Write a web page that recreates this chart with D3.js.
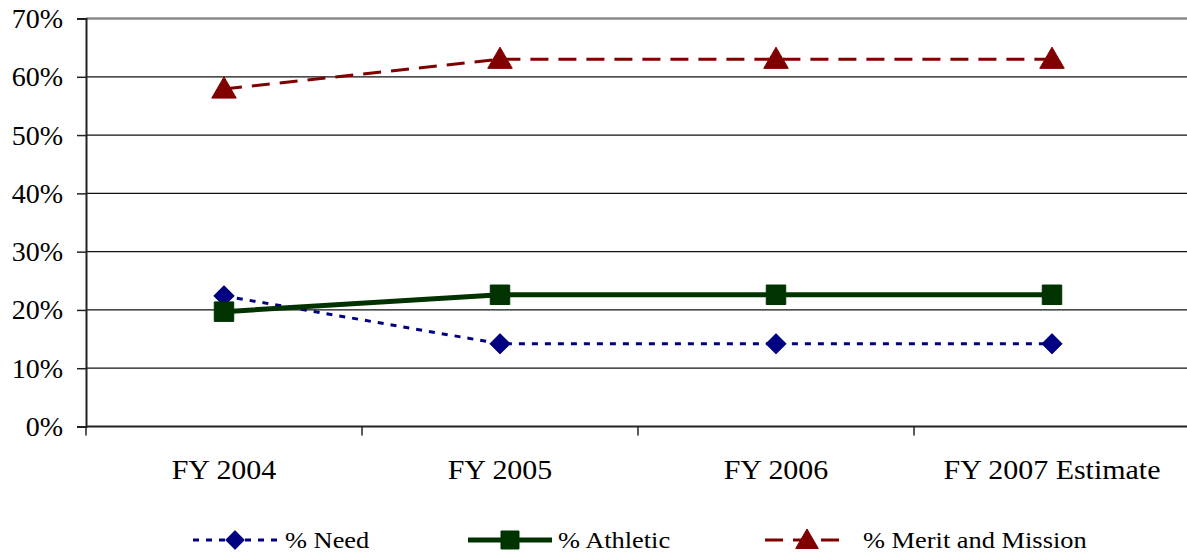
<!DOCTYPE html>
<html>
<head>
<meta charset="utf-8">
<script src="https://cdn.jsdelivr.net/npm/d3@7"></script>
<style>
	body { margin: 0; background: #fff; }
	svg { display: block; font-family: "Liberation Serif", "Times New Roman", serif; }
</style>
</head>
<body>
<svg id="chart" width="1187" height="554"></svg>
<script>
const categories = ["FY 2004", "FY 2005", "FY 2006", "FY 2007 Estimate"];
const need = [0.224, 0.142, 0.142, 0.142];
const athletic = [0.197, 0.226, 0.226, 0.226];
const merit = [0.579, 0.630, 0.630, 0.630];
const yTicks = [0, 0.1, 0.2, 0.3, 0.4, 0.5, 0.6, 0.7];
const seriesNames = ["% Need", "% Athletic", "% Merit and Mission"];

const svg = d3.select("#chart");
const plotL = 86, plotR = 1190, plotT = 18.5, plotB = 426.5;

const x = d3.scaleBand().domain(categories).range([plotL, plotR]).padding(0);
const y = d3.scaleLinear().domain([0, 0.7]).range([plotB, plotT]);

// widen text a bit, the source font runs wider than Liberation Serif
function stretch(sel, k) {
	sel.each(function() {
		const w = this.getComputedTextLength();
		d3.select(this).attr("textLength", w * k).attr("lengthAdjust", "spacingAndGlyphs");
	});
}

// gridlines
svg.append("g").selectAll("line").data(yTicks.filter(d => d > 0)).join("line")
	.attr("x1", plotL).attr("x2", 1187)
	.attr("y1", d => y(d)).attr("y2", d => y(d))
	.attr("stroke", d => d === 0.7 ? "#8a8a8a" : "#111")
	.attr("stroke-width", d => d === 0.7 ? 2.5 : 1.2);

// y axis
const yAxis = svg.append("g")
	.attr("transform", `translate(${plotL},0)`)
	.call(d3.axisLeft(y).tickValues(yTicks).tickFormat(d3.format(".0%")).tickSize(9).tickPadding(14));
yAxis.select(".domain").attr("stroke", "#222").attr("stroke-width", 2);
yAxis.selectAll(".tick line").attr("stroke", "#222").attr("stroke-width", 1.5);
yAxis.selectAll("text").attr("font-size", "28px").attr("fill", "#000")
	.attr("font-family", "Liberation Serif");

// x axis
const xAxis = svg.append("g")
	.attr("transform", `translate(0,${plotB})`)
	.call(d3.axisBottom(x).tickSize(0).tickPadding(33));
xAxis.select(".domain").remove();
svg.append("line").attr("x1", plotL).attr("x2", 1187).attr("y1", plotB).attr("y2", plotB)
	.attr("stroke", "#222").attr("stroke-width", 2.2);
svg.append("g").selectAll("line").data(categories).join("line")
	.attr("x1", d => x(d)).attr("x2", d => x(d))
	.attr("y1", plotB).attr("y2", plotB + 9)
	.attr("stroke", "#222").attr("stroke-width", 1.5);
xAxis.selectAll("text").attr("font-size", "28px").attr("fill", "#000")
	.attr("font-family", "Liberation Serif").call(stretch, 1.07);

const cx = d => x(d) + x.bandwidth() / 2;
const styles = [
	{ data: need, color: "#000080", width: 3, dash: "6,7", shape: d3.symbolSquare, rot: 45, size: 200 },
	{ data: athletic, color: "#003300", width: 5, dash: null, shape: d3.symbolSquare, rot: 0, size: 380 },
	{ data: merit, color: "#800000", width: 3, dash: "18,10", shape: d3.symbolTriangle, rot: 0, size: 260 }
];

const line = d3.line().x((d, i) => cx(categories[i])).y(d => y(d));

styles.forEach(s => {
	svg.append("path").datum(s.data)
		.attr("d", line).attr("fill", "none")
		.attr("stroke", s.color).attr("stroke-width", s.width)
		.attr("stroke-dasharray", s.dash);
});
styles.forEach(s => {
	const sym = d3.symbol().type(s.shape).size(s.size);
	svg.append("g").selectAll("path").data(s.data).join("path")
		.attr("d", sym)
		.attr("transform", (d, i) => `translate(${cx(categories[i])},${y(d) + (s.shape === d3.symbolTriangle ? 2 : 0)}) rotate(${s.rot})`)
		.attr("fill", s.color)
		.attr("stroke", s.color).attr("stroke-width", 1)
		.attr("stroke-linejoin", "round");
});

// legend
const legX = [193, 468, 765];
const legTextX = [92, 90, 98];
const legY = 540;
styles.forEach((s, i) => {
	const g = svg.append("g").attr("transform", `translate(${legX[i]},${legY})`);
	g.append("line").attr("x1", 0).attr("x2", 84).attr("y1", 0).attr("y2", 0)
		.attr("stroke", s.color).attr("stroke-width", s.width)
		.attr("stroke-dasharray", s.dash);
	g.append("path").attr("d", d3.symbol().type(s.shape).size(s.size * 0.85))
		.attr("transform", `translate(42,${s.shape === d3.symbolTriangle ? 2 : 0}) rotate(${s.rot})`)
		.attr("fill", s.color).attr("stroke", s.color).attr("stroke-linejoin", "round");
	g.append("text").attr("x", legTextX[i]).attr("y", 0).attr("dy", "0.35em")
		.attr("font-size", "24px").attr("fill", "#000")
		.text(seriesNames[i]).call(stretch, 1.1);
});
</script>
</body>
</html>
